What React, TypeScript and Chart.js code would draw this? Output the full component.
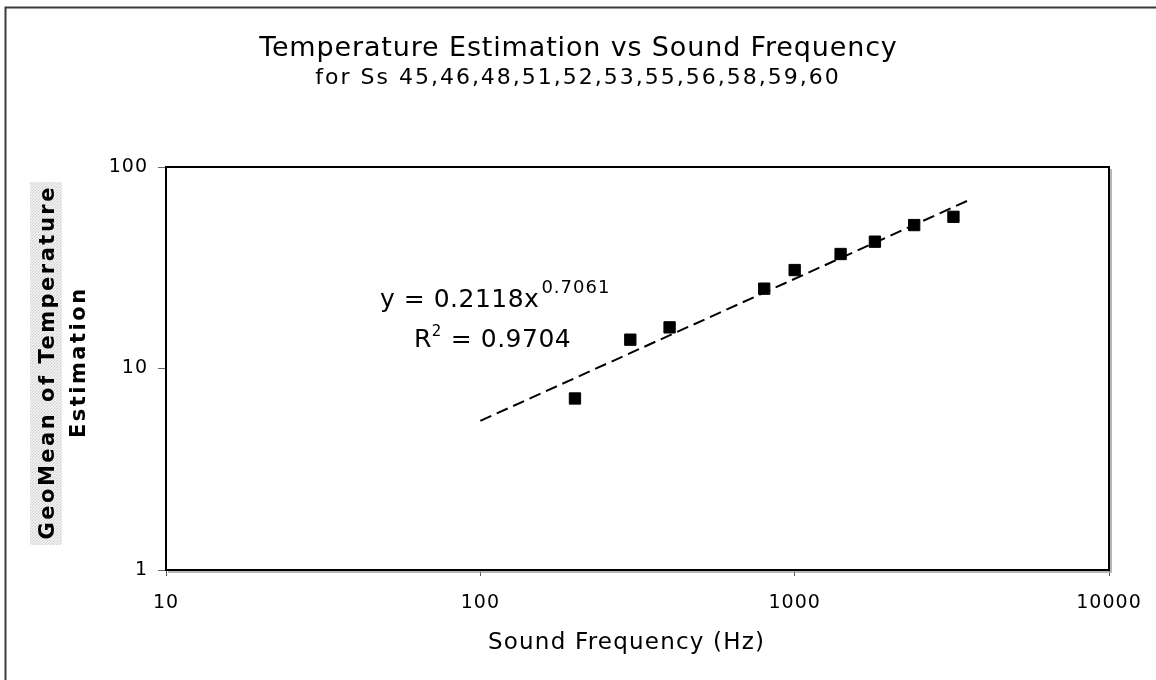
import React, { useEffect, useRef } from 'react';
import { Chart, registerables } from 'chart.js';

Chart.register(...registerables);

// ---- data ----
const frequencies = [200, 300, 400, 800, 1000, 1400, 1800, 2400, 3200];
const geoMeans = [7.1, 13.9, 16.0, 24.9, 30.8, 37.0, 42.6, 51.5, 56.6];
const trendFrequencies = [100, 3600];
const trendValues = [5.5, 68.7];
const xTickValues = [10, 100, 1000, 10000];
const yTickValues = [1, 10, 100];

// ---- text ----
const titleText = 'Temperature Estimation vs Sound Frequency';
const subtitleText = 'for Ss 45,46,48,51,52,53,55,56,58,59,60';
const xAxisTitle = 'Sound Frequency (Hz)';
const yAxisTitleLines = ['GeoMean of Temperature', 'Estimation'];
const equationMain = 'y = 0.2118x';
const equationExp = '0.7061';
const rSquaredBase = 'R';
const rSquaredExp = '2';
const rSquaredRest = ' = 0.9704';

const FONT = '"DejaVu Sans", Verdana, sans-serif';

function setSpacing(ctx: any, px: number) {
  if ('letterSpacing' in ctx) ctx.letterSpacing = px + 'px';
}

function drawSpaced(ctx: any, text: string, x: number, y: number, spacing: number, align: 'left' | 'center') {
  setSpacing(ctx, spacing);
  ctx.textAlign = 'left';
  const w = ctx.measureText(text).width - spacing;
  const startX = align === 'center' ? x - w / 2 : x;
  ctx.fillText(text, startX, y);
  return startX + w + spacing;
}

let patternCache: CanvasPattern | null = null;
function getPattern(ctx: CanvasRenderingContext2D) {
  if (patternCache) return patternCache;
  const pc = document.createElement('canvas');
  pc.width = 3;
  pc.height = 3;
  const p = pc.getContext('2d')!;
  p.fillStyle = '#efefef';
  p.fillRect(0, 0, 3, 3);
  p.fillStyle = '#d2d2d2';
  p.fillRect(0, 0, 1, 1);
  p.fillRect(2, 1, 1, 1);
  p.fillStyle = '#dedede';
  p.fillRect(1, 2, 1, 1);
  patternCache = ctx.createPattern(pc, 'repeat');
  return patternCache;
}

const decorPlugin = {
  id: 'decor',
  beforeDraw(chart: any) {
    const ctx = chart.ctx;
    ctx.save();
    ctx.fillStyle = '#ffffff';
    ctx.fillRect(0, 0, chart.width, chart.height);
    // outer chart frame (right/bottom edges lie beyond the view)
    ctx.strokeStyle = '#3a3a3a';
    ctx.lineWidth = 2;
    ctx.beginPath();
    ctx.moveTo(5.5, chart.height + 10);
    ctx.lineTo(5.5, 7.5);
    ctx.lineTo(chart.width + 10, 7.5);
    ctx.stroke();
    ctx.restore();
    setSpacing(ctx, 1);
  },
  beforeDatasetsDraw(chart: any) {
    const ctx = chart.ctx;
    const a = chart.chartArea;
    ctx.save();
    // shadow
    ctx.strokeStyle = '#a0a0a0';
    ctx.lineWidth = 1.5;
    ctx.beginPath();
    ctx.moveTo(a.right + 2, a.top + 2);
    ctx.lineTo(a.right + 2, a.bottom + 2);
    ctx.lineTo(a.left + 2, a.bottom + 2);
    ctx.stroke();
    // frame
    ctx.strokeStyle = '#000';
    ctx.lineWidth = 2;
    ctx.strokeRect(a.left, a.top, a.right - a.left, a.bottom - a.top);
    ctx.restore();
  },
  afterDraw(chart: any) {
    const ctx = chart.ctx;
    const a = chart.chartArea;
    ctx.save();
    ctx.fillStyle = '#000';
    ctx.textBaseline = 'alphabetic';

    // titles
    ctx.font = `27px ${FONT}`;
    drawSpaced(ctx, titleText, 578, 56, 0.85, 'center');
    ctx.font = `22px ${FONT}`;
    drawSpaced(ctx, subtitleText, 577, 84, 2, 'center');

    // x axis title
    ctx.font = `23px ${FONT}`;
    drawSpaced(ctx, xAxisTitle, 626, 649, 1.2, 'center');

    // y axis title with dotted background
    ctx.fillStyle = getPattern(ctx) || '#e6e6e6';
    ctx.fillRect(30, 182, 32, 363);
    ctx.fillStyle = '#000';
    ctx.font = `bold 21px ${FONT}`;
    const midY = (a.top + a.bottom) / 2 - 5;
    const baselines = [54, 85];
    yAxisTitleLines.forEach((line, i) => {
      ctx.save();
      ctx.translate(baselines[i], midY);
      ctx.rotate(-Math.PI / 2);
      drawSpaced(ctx, line, 0, 0, 2.5, 'center');
      ctx.restore();
    });

    // trendline equation
    ctx.font = `25px ${FONT}`;
    let x = drawSpaced(ctx, equationMain, 380, 307, 0.5, 'left');
    ctx.font = `18px ${FONT}`;
    drawSpaced(ctx, equationExp, x + 2, 293, 1, 'left');
    ctx.font = `25px ${FONT}`;
    x = drawSpaced(ctx, rSquaredBase, 414, 347, 0.5, 'left');
    ctx.font = `15px ${FONT}`;
    x = drawSpaced(ctx, rSquaredExp, x, 336, 0, 'left');
    ctx.font = `25px ${FONT}`;
    drawSpaced(ctx, rSquaredRest, x + 1, 347, 0.5, 'left');

    ctx.restore();
    setSpacing(ctx, 0);
  },
};

export default function App() {
  const ref = useRef<HTMLCanvasElement | null>(null);

  useEffect(() => {
    const canvas = ref.current;
    if (!canvas) return;
    const chart = new Chart(canvas, {
      type: 'scatter',
      data: {
        datasets: [
          {
            type: 'scatter',
            label: 'GeoMean',
            data: frequencies.map((f, i) => ({ x: f, y: geoMeans[i] })),
            pointStyle: 'rect',
            pointRadius: 8,
            pointHoverRadius: 8,
            backgroundColor: '#000',
            borderColor: '#000',
            borderWidth: 1,
            order: 1,
          } as any,
          {
            type: 'line',
            label: 'Power trend',
            data: trendFrequencies.map((f, i) => ({ x: f, y: trendValues[i] })),
            borderColor: '#000',
            borderWidth: 2,
            borderDash: [12, 6],
            pointRadius: 0,
            fill: false,
            tension: 0,
            order: 2,
          } as any,
        ],
      },
      options: {
        animation: false,
        responsive: false,
        maintainAspectRatio: false,
        events: [],
        layout: { padding: { top: 167, right: 47, left: 0, bottom: 0 } },
        plugins: {
          legend: { display: false },
          tooltip: { enabled: false },
          title: { display: false },
        },
        scales: {
          x: {
            type: 'logarithmic',
            position: 'bottom',
            min: 10,
            max: 10000,
            afterBuildTicks: (s: any) => {
              s.ticks = xTickValues.map((v) => ({ value: v }));
            },
            afterFit: (s: any) => {
              s.height = 110;
            },
            ticks: {
              callback: (v: any) => String(v),
              color: '#000',
              font: { family: FONT, size: 19 },
              padding: 16,
              maxRotation: 0,
              autoSkip: false,
            },
            grid: { drawOnChartArea: false, drawTicks: true, tickLength: 6, color: '#555', lineWidth: 1 },
            border: { display: false },
          },
          y: {
            type: 'logarithmic',
            position: 'left',
            min: 1,
            max: 100,
            afterBuildTicks: (s: any) => {
              s.ticks = yTickValues.map((v) => ({ value: v }));
            },
            afterFit: (s: any) => {
              s.width = 166;
            },
            ticks: {
              callback: (v: any) => String(v),
              color: '#000',
              font: { family: FONT, size: 19 },
              padding: 10,
              autoSkip: false,
            },
            grid: { drawOnChartArea: false, drawTicks: true, tickLength: 8, color: '#666', lineWidth: 1 },
            border: { display: false },
          },
        },
      } as any,
      plugins: [decorPlugin],
    });
    return () => chart.destroy();
  }, []);

  return (
    <div style={{ position: 'fixed', left: 0, top: 0, width: 1156, height: 680, background: '#fff' }}>
      <canvas ref={ref} width={1156} height={680} style={{ width: 1156, height: 680, display: 'block' }} />
    </div>
  );
}
